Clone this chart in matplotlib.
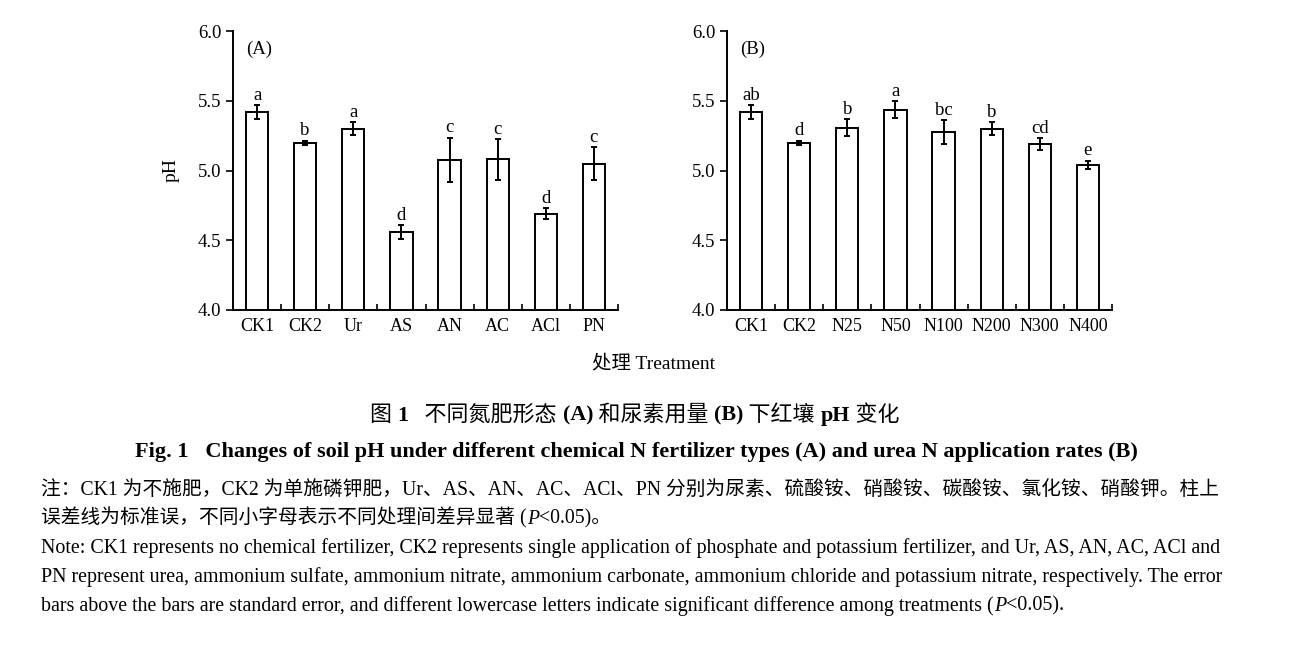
import matplotlib
matplotlib.use("Agg")
import matplotlib.pyplot as plt
import numpy as np

SERIF = ['Liberation Serif', 'Noto Sans CJK SC']
plt.rcParams['font.family'] = SERIF

# panel A: N fertilizer types
cats_a = ['CK1', 'CK2', 'Ur', 'AS', 'AN', 'AC', 'ACl', 'PN']
ph_a = [5.42, 5.20, 5.30, 4.56, 5.075, 5.08, 4.69, 5.05]
se_a = [0.05, 0.015, 0.045, 0.05, 0.16, 0.145, 0.04, 0.115]
let_a = ['a', 'b', 'a', 'd', 'c', 'c', 'd', 'c']

# panel B: urea N rates
cats_b = ['CK1', 'CK2', 'N25', 'N50', 'N100', 'N200', 'N300', 'N400']
ph_b = [5.42, 5.20, 5.307, 5.436, 5.276, 5.30, 5.19, 5.04]
se_b = [0.05, 0.015, 0.06, 0.06, 0.085, 0.045, 0.04, 0.03]
let_b = ['ab', 'd', 'b', 'a', 'bc', 'b', 'cd', 'e']

fig = plt.figure(figsize=(13, 6.58), dpi=100)
W, H = 1300, 658


def panel(left, cats, vals, errs, letters, tag):
    ax = fig.add_axes([left / W, 1 - 310 / H, 385 / W, 279 / H])
    x = np.arange(len(cats))
    ax.bar(x, vals, width=0.46, color='white', edgecolor='black', linewidth=1.4)
    ax.errorbar(x, vals, yerr=errs, fmt='none', ecolor='black',
                elinewidth=1.4, capsize=2.5, capthick=1.4)
    for xi, v, e, l in zip(x, vals, errs, letters):
        ax.text(xi, v + e + 0.01, l, ha='center', va='bottom', fontsize=13.5)
    ax.set_xlim(-0.5, len(cats) - 0.5)
    ax.set_ylim(4.0, 6.0)
    ax.set_yticks(np.arange(4.0, 6.01, 0.5))
    ax.set_yticklabels(['%.1f' % v for v in np.arange(4.0, 6.01, 0.5)])
    ax.set_xticks(x)
    ax.set_xticklabels(cats)
    ax.set_xticks(np.arange(0.5, len(cats)), minor=True)
    ax.tick_params(axis='x', which='major', length=0, labelsize=13, pad=6)
    ax.tick_params(axis='x', which='minor', direction='in', length=4, width=1.2)
    ax.tick_params(axis='y', direction='out', length=5, width=1.2, labelsize=13.5)
    for s in ['top', 'right']:
        ax.spines[s].set_visible(False)
    for s in ['left', 'bottom']:
        ax.spines[s].set_linewidth(1.4)
    ax.text(0.035, 0.935, tag, transform=ax.transAxes, ha='left', va='center', fontsize=13.5)
    return ax


ax1 = panel(233, cats_a, ph_a, se_a, let_a, '(A)')
ax1.set_ylabel('pH', fontsize=14)
ax1.yaxis.set_label_coords(-0.138, 0.5)
ax2 = panel(727, cats_b, ph_b, se_b, let_b, '(B)')

fig.text(654 / W, 1 - 363 / H, '处理 Treatment', ha='center', va='center', fontsize=14)


def chain(x, y, pieces, size):
    """Write text pieces one after another on the same baseline."""
    s, kw = pieces[0]
    t = fig.text(x / W, 1 - y / H, s, ha='left', va='center', fontsize=size, **kw)
    for s, kw in pieces[1:]:
        t = ax1.annotate(s, xy=(1, 0), xycoords=t, ha='left', va='bottom',
                         fontsize=size, annotation_clip=False, **kw)
    return t


B = {'weight': 'bold'}
N = {}
I = {'style': 'italic'}

chain(370, 416, [('图 ', N), ('1', B), ('   不同氮肥形态 ', N), ('(A)', B),
                 (' 和尿素用量 ', N), ('(B)', B), (' 下红壤 ', N), ('pH', B),
                 (' 变化', N)], 15.8)

fig.text(636 / W, 1 - 452 / H,
         'Fig. 1   Changes of soil pH under different chemical N fertilizer types (A) '
         'and urea N application rates (B)',
         ha='center', va='center', fontsize=16, weight='bold')

NS = 14.4
fig.text(41 / W, 1 - 490 / H,
         '注：CK1 为不施肥，CK2 为单施磷钾肥，Ur、AS、AN、AC、ACl、PN 分别为尿素、'
         '硫酸铵、硝酸铵、碳酸铵、氯化铵、硝酸钾。柱上',
         ha='left', va='center', fontsize=14.2)
chain(41, 518, [('误差线为标准误，不同小字母表示不同处理间差异显著 (', N), ('P', I),
                ('<0.05)。', N)], 14.2)
fig.text(41 / W, 1 - 548 / H,
         'Note: CK1 represents no chemical fertilizer, CK2 represents single application '
         'of phosphate and potassium fertilizer, and Ur, AS, AN, AC, ACl and',
         ha='left', va='center', fontsize=NS)
fig.text(41 / W, 1 - 577 / H,
         'PN represent urea, ammonium sulfate, ammonium nitrate, ammonium carbonate, '
         'ammonium chloride and potassium nitrate, respectively. The error',
         ha='left', va='center', fontsize=NS)
chain(41, 606, [('bars above the bars are standard error, and different lowercase letters '
                 'indicate significant difference among treatments (', N), ('P', I),
                ('<0.05).', N)], NS)

fig.savefig('out.png', dpi=100)
